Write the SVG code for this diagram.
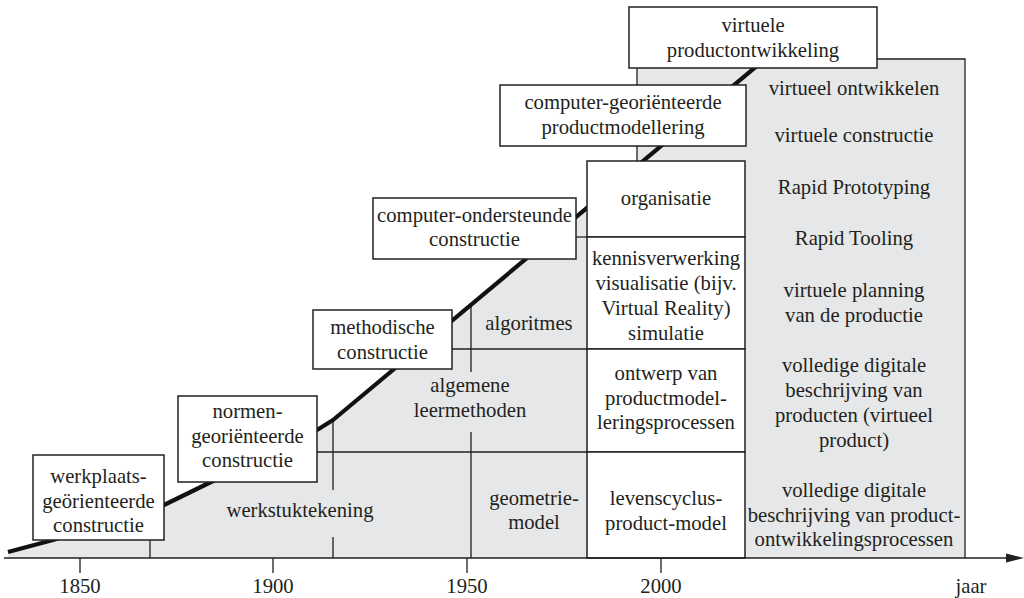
<svg xmlns="http://www.w3.org/2000/svg" width="1024" height="598" viewBox="0 0 1024 598">
<style>
text{font-family:"Liberation Serif","Times New Roman",serif;font-size:20.7px;fill:#231f20;text-anchor:middle}
.box{fill:#fff;stroke:#231f20;stroke-width:1.5}
.ln{stroke:#231f20;stroke-width:1.3;fill:none}
.curve{stroke:#111;stroke-width:4.2;fill:none;stroke-linejoin:round}
</style>
<rect width="1024" height="598" fill="#fff"/>
<g id="background">
<polygon fill="#e6e7e8" points="8,552 53,540 164,505 211,482 317,430 333,420 587,208 587,161 637,161 637,59 965,59 965,558 8,558"/>
<polyline class="ln" points="637,161 637,59 965,59 965,558"/>
</g>
<g id="connectors">
<line class="ln" x1="150" y1="540" x2="150" y2="558"/>
<line class="ln" x1="333" y1="420" x2="333" y2="490"/>
<line class="ln" x1="333" y1="537" x2="333" y2="558"/>
<line class="ln" x1="471" y1="305" x2="471" y2="372"/>
<line class="ln" x1="471" y1="432" x2="471" y2="558"/>
<line class="ln" x1="317" y1="452" x2="587" y2="452"/>
<line class="ln" x1="452" y1="349" x2="587" y2="349"/>
<line class="ln" x1="576" y1="237" x2="587" y2="237"/>
<polyline class="curve" points="8,552 53,540 164,505 211,482 317,430 333,420 770,55"/>
</g>
<g id="col-organisatie">
<rect class="box" x="587" y="161" width="158" height="76"/>
<text x="666" y="205">organisatie</text>
</g>
<g id="col-kennis">
<rect class="box" x="587" y="237" width="158" height="112"/>
<text x="666" y="265">kennisverwerking</text>
<text x="666" y="290">visualisatie (bijv.</text>
<text x="666" y="315">Virtual Reality)</text>
<text x="666" y="340">simulatie</text>
</g>
<g id="col-ontwerp">
<rect class="box" x="587" y="349" width="158" height="103"/>
<text x="666" y="380">ontwerp van</text>
<text x="666" y="405">productmodel-</text>
<text x="666" y="429">leringsprocessen</text>
</g>
<g id="col-levens">
<rect class="box" x="587" y="452" width="158" height="106"/>
<text x="666" y="505">levenscyclus-</text>
<text x="666" y="530">product-model</text>
</g>
<g id="box-werkplaats">
<rect class="box" x="33" y="455" width="131" height="85"/>
<text x="98.5" y="483">werkplaats-</text>
<text x="98.5" y="508">geörienteerde</text>
<text x="98.5" y="532">constructie</text>
</g>
<g id="box-normen">
<rect class="box" x="178" y="396" width="139" height="86"/>
<text x="247.5" y="418">normen-</text>
<text x="247.5" y="443">georiënteerde</text>
<text x="247.5" y="467">constructie</text>
</g>
<g id="box-methodische">
<rect class="box" x="313" y="310" width="139" height="59"/>
<text x="382.5" y="334">methodische</text>
<text x="382.5" y="359">constructie</text>
</g>
<g id="box-computer-ondersteunde">
<rect class="box" x="373" y="198" width="203" height="61"/>
<text x="474.5" y="222">computer-ondersteunde</text>
<text x="474.5" y="246">constructie</text>
</g>
<g id="box-computer-georienteerde">
<rect class="box" x="500" y="85" width="246" height="61"/>
<text x="623" y="109">computer-georiënteerde</text>
<text x="623" y="134">productmodellering</text>
</g>
<g id="box-virtuele">
<rect class="box" x="629" y="7" width="248" height="61"/>
<text x="753" y="32">virtuele</text>
<text x="753" y="57">productontwikkeling</text>
</g>
<g id="labels">
<text x="300" y="517">werkstuktekening</text>
<text x="529" y="330">algoritmes</text>
<text x="470" y="392">algemene</text>
<text x="470" y="417">leermethoden</text>
<text x="534" y="505">geometrie-</text>
<text x="534" y="529">model</text>
<text x="854" y="95">virtueel ontwikkelen</text>
<text x="854" y="142">virtuele constructie</text>
<text x="854" y="194">Rapid Prototyping</text>
<text x="854" y="245">Rapid Tooling</text>
<text x="854" y="297">virtuele planning</text>
<text x="854" y="322">van de productie</text>
<text x="854" y="372">volledige digitale</text>
<text x="854" y="397">beschrijving van</text>
<text x="854" y="422">producten (virtueel</text>
<text x="854" y="447">product)</text>
<text x="854" y="497">volledige digitale</text>
<text x="854" y="522">beschrijving van product-</text>
<text x="854" y="546">ontwikkelingsprocessen</text>
</g>
<g id="axis">
<line class="ln" x1="4" y1="558" x2="1010" y2="558" stroke-width="1.5"/>
<polygon fill="#231f20" points="1006,553.5 1024,558 1006,562.5"/>
<line class="ln" x1="80" y1="558" x2="80" y2="573"/>
<line class="ln" x1="273" y1="558" x2="273" y2="573"/>
<line class="ln" x1="467" y1="558" x2="467" y2="573"/>
<line class="ln" x1="661" y1="558" x2="661" y2="573"/>
<text x="80" y="593">1850</text>
<text x="273" y="593">1900</text>
<text x="467" y="593">1950</text>
<text x="661" y="593">2000</text>
<text x="971" y="593">jaar</text>
</g>
</svg>
